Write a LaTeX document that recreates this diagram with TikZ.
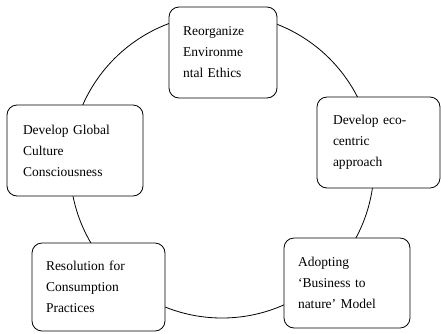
\documentclass[tikz,border=0pt]{standalone}
\usepackage{fontspec}
\setmainfont{Liberation Serif}
\usepackage{tikz}
\usetikzlibrary{positioning}

\tikzset{
    stagebox/.style={draw, fill=white, rounded corners=10pt, line width=0.8pt,
        align=left, inner xsep=14pt, inner ysep=0pt,
        font=\fontsize{13.5}{21}\selectfont}
}

\begin{document}
\begin{tikzpicture}[x=1pt, y=-1pt]
    \useasboundingbox (0,0) rectangle (441,333);
    % ring behind the stages
    \node[draw, circle, line width=0.8pt, minimum size=304pt, inner sep=0pt] (ring) at (222,166) {};

    % stages round the ring
    \node[stagebox, text width=80pt, minimum height=91pt] (ethics) at (223,52.5)
        {Reorganize\\Environme\\ntal Ethics};
    \node[stagebox, inner xsep=16pt, text width=91pt, minimum height=91pt] (eco) at (378.5,142.5)
        {Develop eco-\\centric\\approach};
    \node[stagebox, inner xsep=16pt, text width=104pt, minimum height=91pt] (culture) at (75,150.5)
        {Develop Global\\Culture\\Consciousness};
    \node[stagebox, text width=105pt, minimum height=88pt] (consume) at (98.5,287)
        {Resolution for\\Consumption\\Practices};
    \node[stagebox, text width=98pt, minimum height=90pt] (nature) at (347,283)
        {Adopting\\`Business to\\nature' Model};
\end{tikzpicture}
\end{document}
